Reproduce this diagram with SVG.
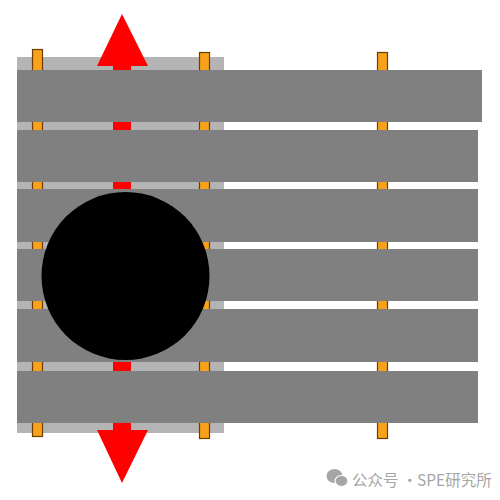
<svg xmlns="http://www.w3.org/2000/svg" width="500" height="500" viewBox="0 0 500 500">
<style>
.peg{fill:#f9a11b;stroke:#6b3d00;stroke-width:1.2}
.bar{fill:#808080}
.red{fill:#ff0000}
.wm{font-family:"Noto Sans CJK SC","Noto Sans",sans-serif;font-size:15.5px;fill:#a6a6a6}
</style>
<rect width="500" height="500" fill="#ffffff"/>
<g id="frame">
<rect x="17" y="57" width="207" height="376" fill="#b4b4b4"/>
</g>
<g id="pegs">
<rect class="peg" x="32.5" y="49.5" width="10" height="387"/>
<rect class="peg" x="199.5" y="52.5" width="10" height="386"/>
<rect class="peg" x="377.5" y="52.5" width="10" height="386"/>
</g>
<g id="arrow">
<rect class="red" x="113" y="64" width="18" height="368"/>
<polygon class="red" points="122,14 148,66 97,66"/>
<polygon class="red" points="97,430 148,430 122,483"/>
</g>
<g id="bars">
<rect class="bar" x="17" y="70" width="465" height="52"/>
<rect class="bar" x="17" y="130" width="461" height="52"/>
<rect class="bar" x="17" y="189" width="461" height="53"/>
<rect class="bar" x="17" y="249" width="461" height="52"/>
<rect class="bar" x="17" y="309" width="461" height="53"/>
<rect class="bar" x="17" y="371" width="461" height="52"/>
</g>
<g id="ball">
<circle cx="125.5" cy="276" r="84" fill="#000000"/>
</g>
<g id="watermark">
<ellipse cx="334.5" cy="476" rx="8" ry="7" fill="#a6a6a6"/>
<ellipse cx="341.5" cy="481" rx="6.5" ry="5.5" fill="#a6a6a6" stroke="#ffffff" stroke-width="1.2"/>
<text class="wm" x="352" y="486">公众号 ·</text>
<text class="wm" x="417" y="486">SPE研究所</text>
</g>
</svg>
